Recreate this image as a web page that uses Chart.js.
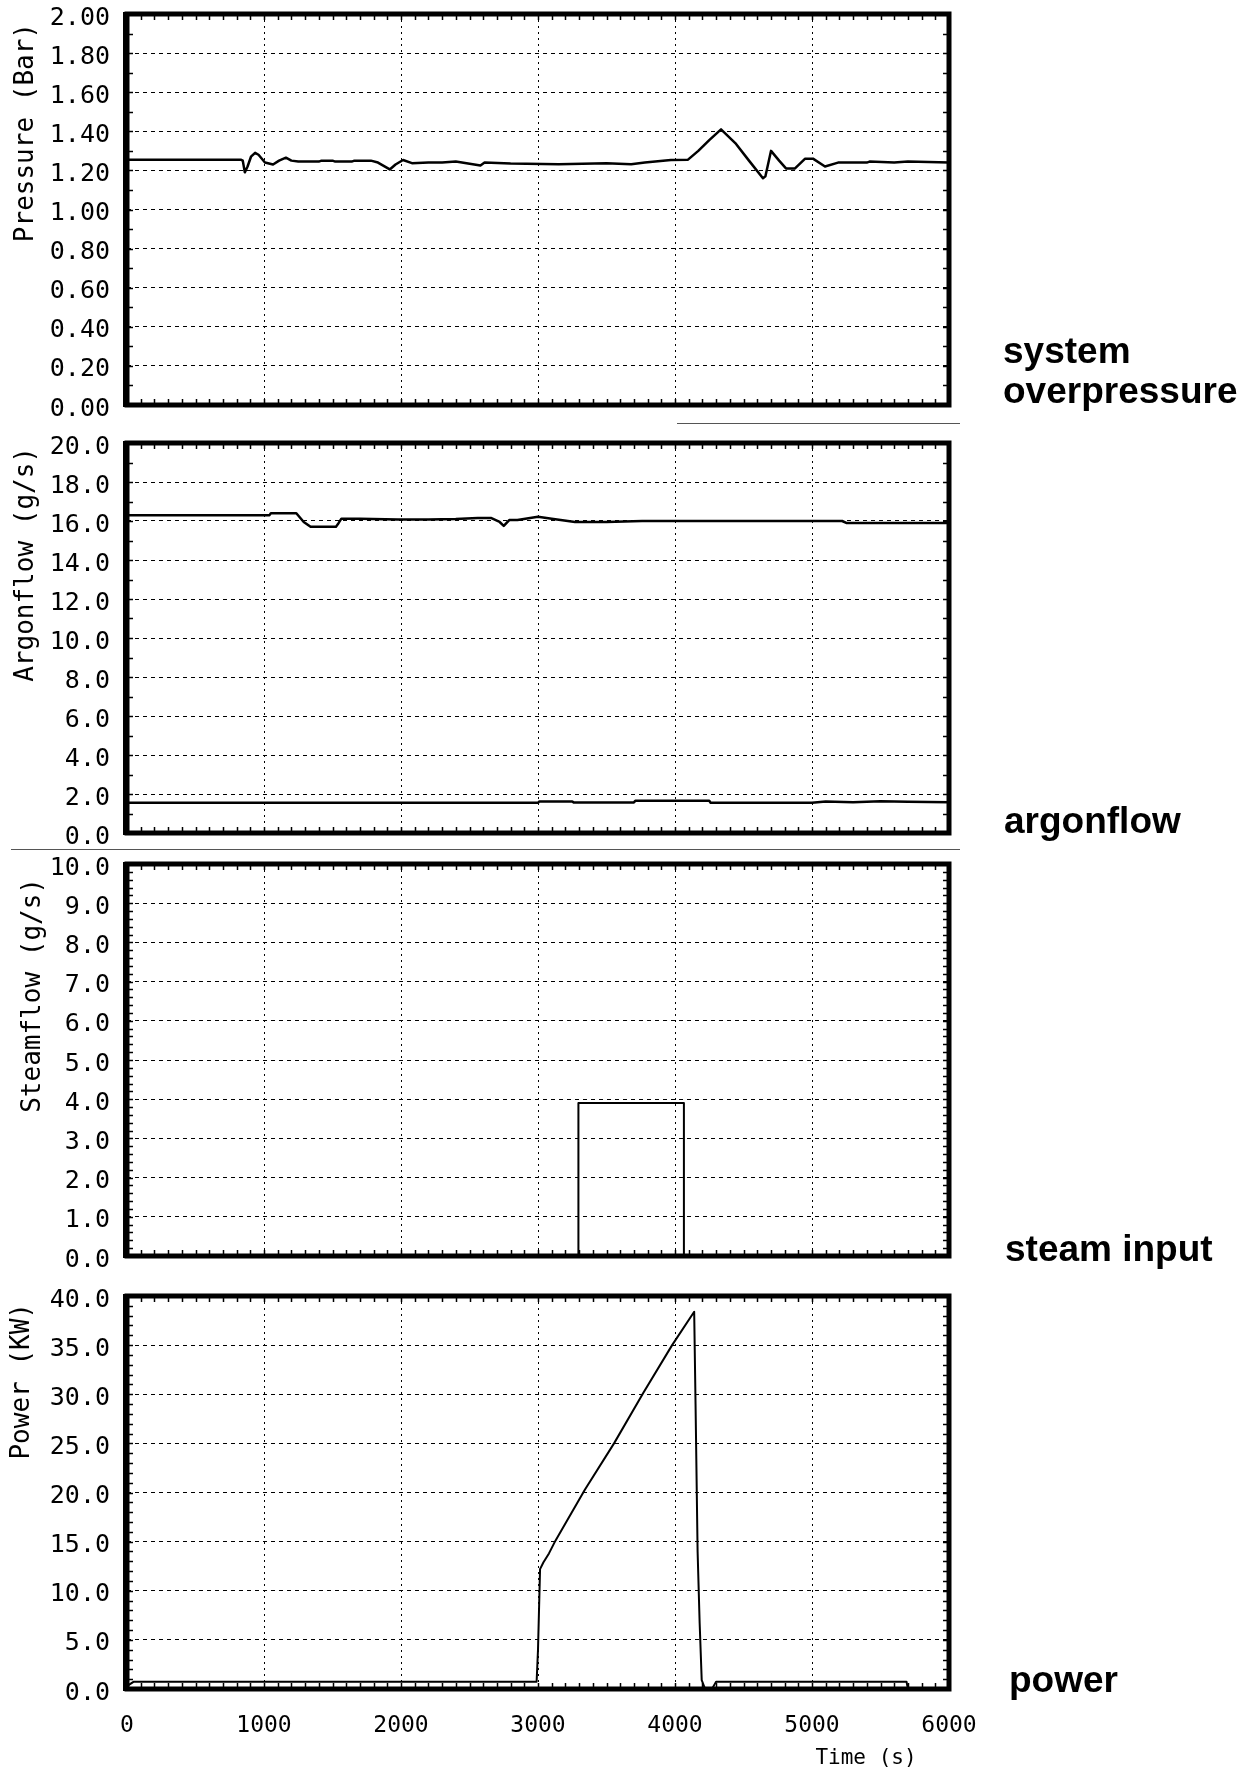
<!DOCTYPE html>
<html>
<head>
<meta charset="utf-8">
<title>Steam injection test - pressure, argonflow, steamflow, power</title>
<script src="https://cdn.jsdelivr.net/npm/chart.js@4.4.1/dist/chart.umd.min.js"></script>
<style>
    body { margin: 0; background: #fff; }
    #page { position: relative; width: 1248px; height: 1770px; overflow: hidden; background: #fff; }
    canvas { position: absolute; left: 0; }
    .side { position: absolute; font-family: "Liberation Sans", Arial, sans-serif; font-weight: bold; font-size: 37px; line-height: 40px; color: #000; white-space: nowrap; }
    .scan { position: absolute; height: 1px; background: #555; }
    #timeLabel { position: absolute; left: 806px; top: 1744px; width: 120px; text-align: center; font-family: "DejaVu Sans Mono", monospace; font-size: 21px; line-height: 26px; color: #000; }
</style>
</head>
<body>
<div id="page">
    <canvas id="pressureChart"></canvas>
    <canvas id="argonChart"></canvas>
    <canvas id="steamChart"></canvas>
    <canvas id="powerChart"></canvas>

    <div class="scan" style="left:677px; top:423px; width:283px;"></div>
    <div class="scan" style="left:11px; top:849px; width:949px;"></div>

    <div class="side" style="left:1003px; top:331px;">system<br>overpressure</div>
    <div class="side" style="left:1004px; top:801px;">argonflow</div>
    <div class="side" style="left:1005px; top:1229px;">steam input</div>
    <div class="side" style="left:1009px; top:1660px;">power</div>
    <div id="timeLabel">Time (s)</div>
</div>

<script>
// Values (time in seconds)
let pressureTimes = [
    0, 830, 845, 860, 880, 905, 935, 960, 1007, 1066,
    1110, 1160, 1200, 1250, 1400, 1420, 1500, 1520, 1640, 1660,
    1780, 1832, 1918, 1960, 2015, 2080, 2200, 2300, 2400, 2580,
    2610, 2800, 3150, 3500, 3680, 3780, 3970, 4095, 4170, 4250,
    4336, 4440, 4540, 4642, 4660, 4701, 4760, 4810, 4876, 4950,
    5007, 5095, 5190, 5400, 5420, 5600, 5700, 6000
];
let pressureValues = [
    1.255, 1.255, 1.25, 1.19, 1.22, 1.27, 1.29, 1.28, 1.24, 1.23,
    1.25, 1.265, 1.25, 1.245, 1.245, 1.25, 1.25, 1.245, 1.245, 1.25,
    1.25, 1.24, 1.205, 1.23, 1.253, 1.237, 1.24, 1.24, 1.245, 1.225,
    1.24, 1.235, 1.232, 1.237, 1.232, 1.24, 1.253, 1.255, 1.30, 1.355,
    1.41, 1.34, 1.25, 1.16, 1.17, 1.30, 1.25, 1.21, 1.21, 1.26,
    1.26, 1.22, 1.24, 1.24, 1.245, 1.24, 1.245, 1.24
];

// Argonflow has two traces: the main flow (~16 g/s) and a low one (~1.5 g/s)
let argonTimes = [
    0, 1040, 1050, 1236, 1290, 1340, 1525, 1545, 1565, 1700,
    1980, 2200, 2400, 2560, 2660, 2720, 2750, 2790, 2850, 3000,
    3100, 3270, 3500, 3760, 4500, 5220, 5250, 6000
];
let argonValues = [
    16.3, 16.3, 16.4, 16.4, 15.95, 15.7, 15.7, 15.9, 16.12, 16.12,
    16.08, 16.08, 16.1, 16.15, 16.15, 15.95, 15.75, 16.05, 16.05, 16.22,
    16.12, 15.95, 15.95, 16.0, 16.0, 16.0, 15.9, 15.9
];
let argonLowTimes = [0, 3000, 3010, 3250, 3260, 3700, 3710, 4250, 4260, 5000, 5100, 5300, 5500, 5700, 6000];
let argonLowValues = [1.55, 1.55, 1.62, 1.62, 1.57, 1.57, 1.65, 1.65, 1.55, 1.55, 1.62, 1.58, 1.63, 1.6, 1.58];

let steamTimes = [0, 3295, 3295, 4065, 4065, 6000];
let steamValues = [0, 0, 3.9, 3.9, 0, 0];

let powerTimes = [
    0, 50, 2990, 3000, 3015, 3040, 3080, 3120, 3343, 3555,
    3767, 3979, 4140, 4150, 4165, 4180, 4195, 4220, 4270, 4300,
    5690, 5700, 6000
];
let powerValues = [
    0.3, 0.75, 0.75, 4, 12.2, 12.9, 13.8, 14.9, 20.3, 25.0,
    30.1, 35.0, 38.4, 29, 14, 6.7, 0.9, 0, 0, 0.75,
    0.75, 0, 0
];

let timeTickLabels = [0, 1000, 2000, 3000, 4000, 5000, 6000];

// Pairs the times with the values for the line datasets
function toPoints(times, values) 
{
    let points = [];
    for (let i = 0; i < times.length; i++) 
    {
        points.push({ x: times[i], y: values[i] });
    }
    return points;
}

// Draws the heavy frame, the small inward ticks and the rotated axis title
let framePlugin = 
{
    id: "frame",
    afterDatasetsDraw(chart, args, opts) 
    {
        let ctx = chart.ctx;
        let area = chart.chartArea;
        let xScale = chart.scales.x;
        let yScale = chart.scales.y;
        ctx.save();
        ctx.strokeStyle = "#000";
        ctx.lineWidth = 1.5;
        ctx.beginPath();
        // Minor ticks every 100 s along the top and bottom
        for (let i = 1; i < 60; i++) 
        {
            let px = Math.round(xScale.getPixelForValue(i * 100)) + 0.5;
            ctx.moveTo(px, area.top);
            ctx.lineTo(px, area.top + 6);
            ctx.moveTo(px, area.bottom);
            ctx.lineTo(px, area.bottom - 6);
        }
        // Minor ticks along the left and right
        let count = Math.round((yScale.max - yScale.min) / opts.minorStep);
        for (let i = 1; i < count; i++) 
        {
            let py = Math.round(yScale.getPixelForValue(yScale.min + i * opts.minorStep)) + 0.5;
            ctx.moveTo(area.left, py);
            ctx.lineTo(area.left + 6, py);
            ctx.moveTo(area.right, py);
            ctx.lineTo(area.right - 6, py);
        }
        ctx.stroke();

        ctx.lineWidth = 5;
        ctx.strokeRect(area.left, area.top, area.width, area.height);
        ctx.lineWidth = 2;
        ctx.beginPath();
        ctx.moveTo(area.left - 3, area.top - 2);
        ctx.lineTo(area.left - 3, area.bottom + 2);
        ctx.stroke();

        // Axis title, written upwards and hung from the top of the plot
        ctx.translate(opts.titleX, area.top + opts.titleOffset);
        ctx.rotate(-Math.PI / 2);
        ctx.fillStyle = "#000";
        ctx.font = '26px "DejaVu Sans Mono", monospace';
        ctx.textAlign = "right";
        ctx.textBaseline = "alphabetic";
        ctx.fillText(opts.title, 0, 0);
        ctx.restore();
    }
};

let tickFont = { family: "DejaVu Sans Mono", size: 25 };

function makePanel(panel) 
{
    // Room above and below the plot so the scale label padding never moves the plot area
    let padTop = 40;
    let canvas = document.getElementById(panel.id);
    canvas.width = 1248;
    canvas.height = (panel.bottom - panel.top) + padTop + panel.bottomSpace;
    canvas.style.top = (panel.top - padTop) + "px";

    new Chart(canvas, 
    {
        type: "line",
        data: { datasets: panel.datasets },
        options: 
        {
            responsive: false,
            animation: false,
            events: [],
            layout: 
            {
                autoPadding: false,
                padding: { top: padTop, right: 299, bottom: 0, left: 0 }
            },
            elements: 
            {
                point: { radius: 0 },
                line: { tension: 0, borderColor: "#000", borderJoinStyle: "round", borderCapStyle: "round" }
            },
            plugins: 
            {
                legend: { display: false },
                tooltip: { enabled: false },
                frame: 
                {
                    minorStep: panel.minorStep,
                    title: panel.title,
                    titleX: panel.titleX,
                    titleOffset: panel.titleOffset
                }
            },
            scales: 
            {
                x: 
                {
                    type: "linear",
                    min: 0,
                    max: 6000,
                    afterFit: (scale) => { scale.height = panel.bottomSpace; },
                    afterBuildTicks: (scale) => { scale.ticks = timeTickLabels.map((v) => ({ value: v })); },
                    ticks: 
                    {
                        display: panel.showTime,
                        padding: 23,
                        color: "#000",
                        font: { family: "DejaVu Sans Mono", size: 23 },
                        maxRotation: 0,
                        autoSkip: false,
                        callback: (value) => String(value)
                    },
                    grid: { color: "#000", lineWidth: 1, drawTicks: false },
                    border: { display: false, dash: [2, 4] }
                },
                y: 
                {
                    min: panel.yMin,
                    max: panel.yMax,
                    afterFit: (scale) => { scale.width = 127; },
                    ticks: 
                    {
                        stepSize: panel.yStep,
                        padding: 17,
                        labelOffset: 4,
                        color: "#000",
                        font: tickFont,
                        autoSkip: false,
                        callback: (value) => Number(value).toFixed(panel.digits)
                    },
                    grid: { color: "#000", lineWidth: 1, drawTicks: false },
                    border: { display: false, dash: [4, 4] }
                }
            }
        },
        plugins: [framePlugin]
    });
}

makePanel({
    id: "pressureChart", top: 14, bottom: 405, bottomSpace: 40, showTime: false,
    yMin: 0, yMax: 2, yStep: 0.2, minorStep: 0.1, digits: 2,
    title: "Pressure (Bar)", titleX: 33, titleOffset: 9,
    datasets: [{ data: toPoints(pressureTimes, pressureValues), borderWidth: 2.5 }]
});

makePanel({
    id: "argonChart", top: 443, bottom: 833, bottomSpace: 40, showTime: false,
    yMin: 0, yMax: 20, yStep: 2, minorStep: 1, digits: 1,
    title: "Argonflow (g/s)", titleX: 33, titleOffset: 4,
    datasets: [
        { data: toPoints(argonTimes, argonValues), borderWidth: 2.5 },
        { data: toPoints(argonLowTimes, argonLowValues), borderWidth: 2.5 }
    ]
});

makePanel({
    id: "steamChart", top: 864, bottom: 1256, bottomSpace: 40, showTime: false,
    yMin: 0, yMax: 10, yStep: 1, minorStep: 0.2, digits: 1,
    title: "Steamflow (g/s)", titleX: 40, titleOffset: 14,
    datasets: [{ data: toPoints(steamTimes, steamValues), borderWidth: 2 }]
});

makePanel({
    id: "powerChart", top: 1296, bottom: 1689, bottomSpace: 80, showTime: true,
    yMin: 0, yMax: 40, yStep: 5, minorStep: 1, digits: 1,
    title: "Power (KW)", titleX: 29, titleOffset: 7,
    datasets: [{ data: toPoints(powerTimes, powerValues), borderWidth: 2 }]
});
</script>
</body>
</html>
